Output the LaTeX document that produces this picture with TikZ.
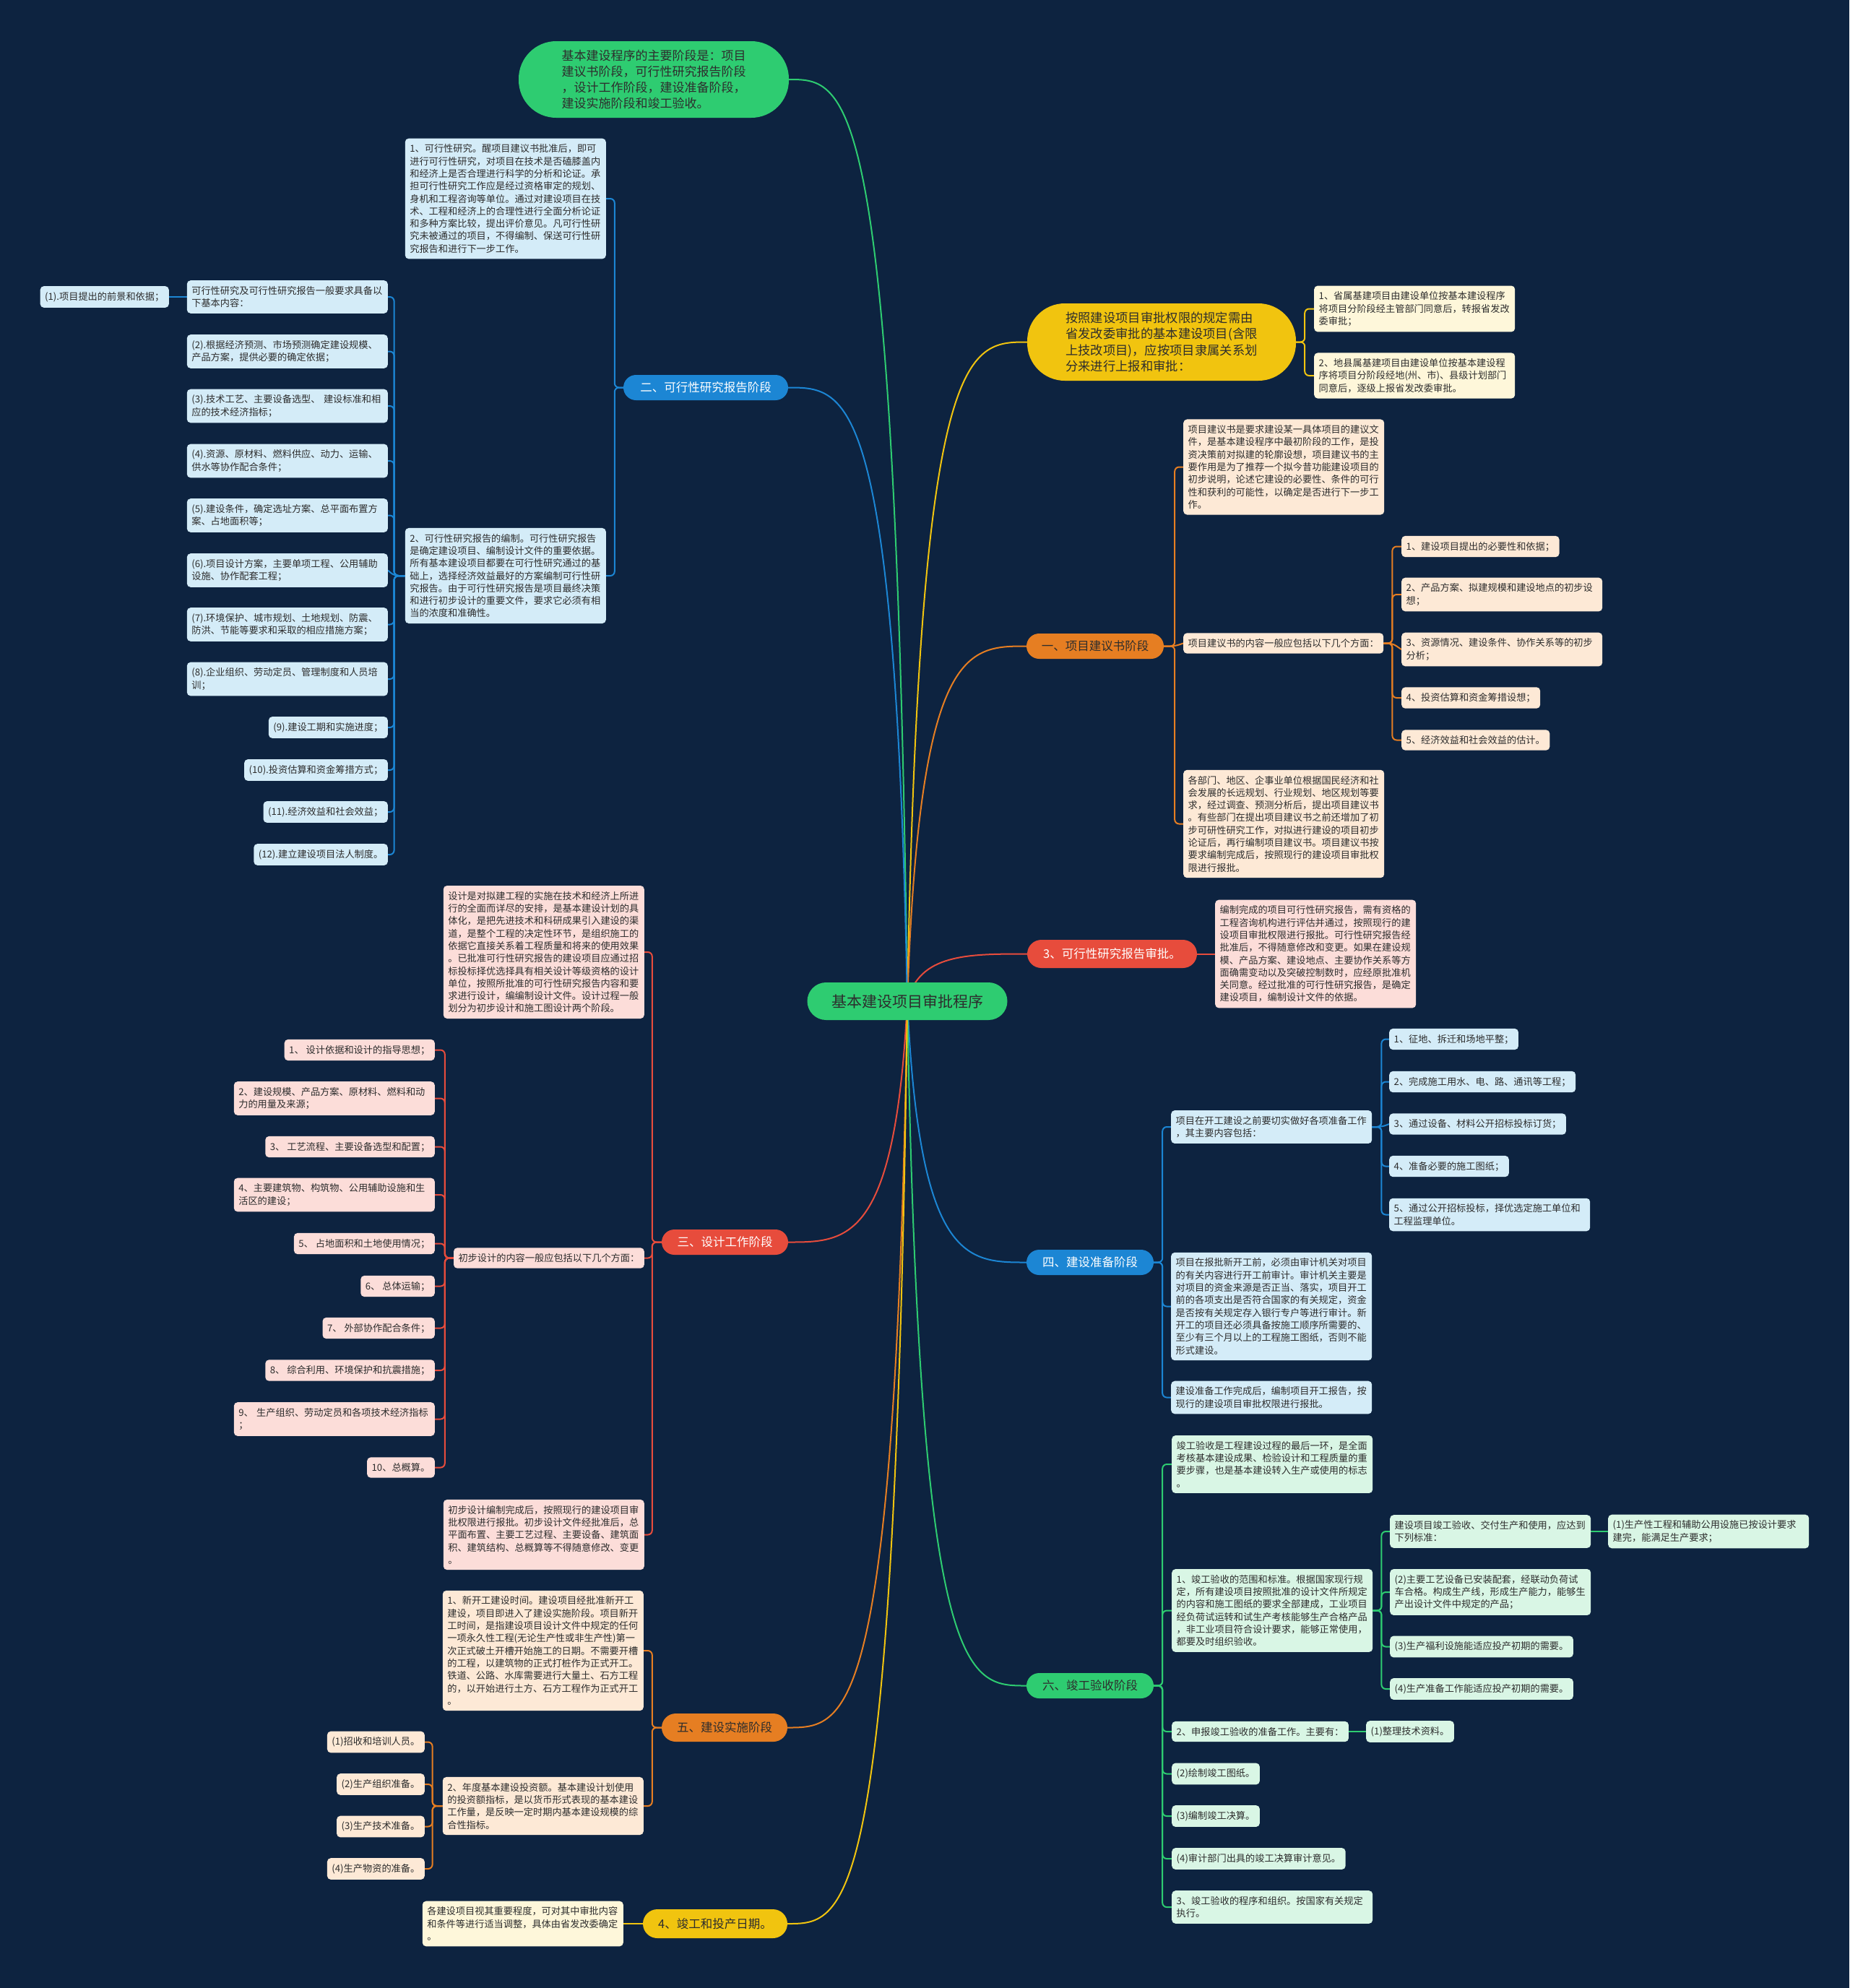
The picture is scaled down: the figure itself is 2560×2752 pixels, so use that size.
\documentclass[tikz,border=0pt]{standalone}
\usepackage{fontspec}
\setmainfont{Noto Sans CJK SC}
\usetikzlibrary{calc}
\definecolor{bgc}{RGB}{13,35,64}
\definecolor{gM}{RGB}{46,204,113}
\definecolor{yM}{RGB}{241,196,15}
\definecolor{oM}{RGB}{230,126,34}
\definecolor{rM}{RGB}{231,76,60}
\definecolor{bM}{RGB}{28,134,212}
\definecolor{gL}{RGB}{217,246,229}
\definecolor{yL}{RGB}{254,247,218}
\definecolor{oL}{RGB}{253,233,214}
\definecolor{rL}{RGB}{252,221,217}
\definecolor{bL}{RGB}{212,236,248}
\definecolor{txt}{RGB}{45,45,45}
\newcommand\lffont{\fontsize{13.2pt}{17.3pt}\selectfont}
\newcommand\brfont{\fontsize{16.5pt}{20pt}\selectfont}
\newcommand\rtfont{\fontsize{21pt}{25pt}\selectfont}
\newcommand\bgfontA{\fontsize{17pt}{21.7pt}\selectfont}
\newcommand\bgfontB{\fontsize{17.3pt}{22.5pt}\selectfont}
\pgfdeclarelayer{bgl}
\pgfdeclarelayer{lns}
\pgfsetlayers{bgl,lns,main}
\tikzset{
  leaf/.style={rectangle, rounded corners=5pt, inner xsep=6.5pt, inner ysep=8pt, align=left, font=\lffont, text=txt},
  lw/.style={text width=265pt},
  br/.style={rectangle, rounded corners=17.5pt, minimum height=35pt, inner sep=0pt, font=\brfont, align=center},
  cn/.style={line width=2pt, rounded corners=6pt},
  rc/.style={line width=2pt},
}
\begin{document}
\begin{tikzpicture}[x=1pt,y=-1pt]
\begin{pgfonlayer}{bgl}
\fill[bgc] (0,0) rectangle (2560,2752);
\end{pgfonlayer}
\useasboundingbox (0,0) rectangle (2560,2752);

% ---------- root and main branches
\node[rectangle, rounded corners=26pt, minimum width=277pt, minimum height=52pt, inner sep=0pt, fill=gM, font=\rtfont, text=txt] (root) at (1256,1386) {基本建设项目审批程序};

\node[rectangle, rounded corners=52pt, minimum width=374pt, minimum height=106pt, inner sep=0pt, fill=gM, font=\bgfontA, text=txt, align=left] (R0) at (905,110) {基本建设程序的主要阶段是：项目\\建议书阶段，可行性研究报告阶段\\，设计工作阶段，建设准备阶段，\\建设实施阶段和竣工验收。};

\node[rectangle, rounded corners=52pt, minimum width=372pt, minimum height=107pt, inner sep=0pt, fill=yM, font=\bgfontB, text=txt, align=left] (R1) at (1608,473.5) {按照建设项目审批权限的规定需由\\省发改委审批的基本建设项目(含限\\上技改项目)，应按项目隶属关系划\\分来进行上报和审批：};

\node[br, fill=oM, text=txt, minimum width=190pt] (R2) at (1516,894.5) {一、项目建议书阶段};
\node[br, fill=rM, text=white, minimum width=235pt, minimum height=39pt, rounded corners=19.5pt] (R3) at (1539.5,1320.5) {3、可行性研究报告审批。};
\node[br, fill=bM, text=white, minimum width=176pt] (R4) at (1509,1747.5) {四、建设准备阶段};
\node[br, fill=gM, text=txt, minimum width=176pt] (R6) at (1509,2333.5) {六、竣工验收阶段};
\node[br, fill=bM, text=white, minimum width=228pt] (L1) at (977,536.5) {二、可行性研究报告阶段};
\node[br, fill=rM, text=white, minimum width=175pt] (L2) at (1003.5,1719.5) {三、设计工作阶段};
\node[br, fill=oM, text=txt, minimum width=174pt, minimum height=39pt, rounded corners=19.5pt] (L3) at (1003,2391.5) {五、建设实施阶段};
\node[br, fill=yM, text=txt, minimum width=200pt, minimum height=40pt, rounded corners=20pt] (L4) at (990,2663) {4、竣工和投产日期。};

% ---------- R1 children
\node[leaf, lw, fill=yL, anchor=west] (R1a) at (1819,427.5) {1、省属基建项目由建设单位按基本建设程序\\将项目分阶段经主管部门同意后，转报省发改\\委审批；};
\node[leaf, lw, fill=yL, anchor=west] (R1b) at (1819,520) {2、地县属基建项目由建设单位按基本建设程\\序将项目分阶段经地(州、市)、县级计划部门\\同意后，逐级上报省发改委审批。};

% ---------- R2 children
\node[leaf, lw, fill=oL, anchor=west] (R2a) at (1638,646.5) {项目建议书是要求建设某一具体项目的建议文\\件，是基本建设程序中最初阶段的工作，是投\\资决策前对拟建的轮廓设想，项目建议书的主\\要作用是为了推荐一个拟今昔功能建设项目的\\初步说明，论述它建设的必要性、条件的可行\\性和获利的可能性，以确定是否进行下一步工\\作。};
\node[leaf, fill=oL, anchor=west] (R2b) at (1638,890.5) {项目建议书的内容一般应包括以下几个方面：};
\node[leaf, lw, fill=oL, anchor=west] (R2c) at (1638,1140.5) {各部门、地区、企事业单位根据国民经济和社\\会发展的长远规划、行业规划、地区规划等要\\求，经过调查、预测分析后，提出项目建议书\\。有些部门在提出项目建议书之前还增加了初\\步可研性研究工作，对拟进行建设的项目初步\\论证后，再行编制项目建议书。项目建议书按\\要求编制完成后，按照现行的建设项目审批权\\限进行报批。};
\node[leaf, fill=oL, anchor=west] (c21) at (1940,756.5) {1、建设项目提出的必要性和依据；};
\node[leaf, lw, fill=oL, anchor=west] (c22) at (1940,823) {2、产品方案、拟建规模和建设地点的初步设\\想；};
\node[leaf, lw, fill=oL, anchor=west] (c23) at (1940,899) {3、资源情况、建设条件、协作关系等的初步\\分析；};
\node[leaf, fill=oL, anchor=west] (c24) at (1940,966) {4、投资估算和资金筹措设想；};
\node[leaf, fill=oL, anchor=west] (c25) at (1940,1024.5) {5、经济效益和社会效益的估计。};

% ---------- R3 child
\node[leaf, lw, fill=rL, anchor=west] (R3a) at (1682,1320.5) {编制完成的项目可行性研究报告，需有资格的\\工程咨询机构进行评估并通过，按照现行的建\\设项目审批权限进行报批。可行性研究报告经\\批准后，不得随意修改和变更。如果在建设规\\模、产品方案、建设地点、主要协作关系等方\\面确需变动以及突破控制数时，应经原批准机\\关同意。经过批准的可行性研究报告，是确定\\建设项目，编制设计文件的依据。};

% ---------- R4 children
\node[leaf, lw, fill=bL, anchor=west] (R4a) at (1621,1560) {项目在开工建设之前要切实做好各项准备工作\\，其主要内容包括：};
\node[leaf, lw, fill=bL, anchor=west] (R4b) at (1621,1808.5) {项目在报批新开工前，必须由审计机关对项目\\的有关内容进行开工前审计。审计机关主要是\\对项目的资金来源是否正当、落实，项目开工\\前的各项支出是否符合国家的有关规定，资金\\是否按有关规定存入银行专户等进行审计。新\\开工的项目还必须具备按施工顺序所需要的、\\至少有三个月以上的工程施工图纸，否则不能\\形式建设。};
\node[leaf, lw, fill=bL, anchor=west] (R4c) at (1621,1934.5) {建设准备工作完成后，编制项目开工报告，按\\现行的建设项目审批权限进行报批。};
\node[leaf, fill=bL, anchor=west] (c41) at (1923,1438.5) {1、征地、拆迁和场地平整；};
\node[leaf, fill=bL, anchor=west] (c42) at (1923,1497.5) {2、完成施工用水、电、路、通讯等工程；};
\node[leaf, fill=bL, anchor=west] (c43) at (1923,1556) {3、通过设备、材料公开招标投标订货；};
\node[leaf, fill=bL, anchor=west] (c44) at (1923,1614.5) {4、准备必要的施工图纸；};
\node[leaf, lw, fill=bL, anchor=west] (c45) at (1923,1681.5) {5、通过公开招标投标，择优选定施工单位和\\工程监理单位。};

% ---------- R6 children
\node[leaf, lw, fill=gL, anchor=west] (R6a) at (1622,2027) {竣工验收是工程建设过程的最后一环，是全面\\考核基本建设成果、检验设计和工程质量的重\\要步骤，也是基本建设转入生产或使用的标志\\。};
\node[leaf, lw, fill=gL, anchor=west] (R6b) at (1622,2229.5) {1、竣工验收的范围和标准。根据国家现行规\\定，所有建设项目按照批准的设计文件所规定\\的内容和施工图纸的要求全部建成，工业项目\\经负荷试运转和试生产考核能够生产合格产品\\，非工业项目符合设计要求，能够正常使用，\\都要及时组织验收。};
\node[leaf, lw, fill=gL, anchor=west] (b61) at (1924,2120) {建设项目竣工验收、交付生产和使用，应达到\\下列标准：};
\node[leaf, lw, fill=gL, anchor=west] (b61a) at (2226,2120) {(1)生产性工程和辅助公用设施已按设计要求\\建完，能满足生产要求；};
\node[leaf, lw, fill=gL, anchor=west] (b62) at (1924,2204) {(2)主要工艺设备已安装配套，经联动负荷试\\车合格。构成生产线，形成生产能力，能够生\\产出设计文件中规定的产品；};
\node[leaf, fill=gL, anchor=west] (b63) at (1924,2279.5) {(3)生产福利设施能适应投产初期的需要。};
\node[leaf, fill=gL, anchor=west] (b64) at (1924,2338) {(4)生产准备工作能适应投产初期的需要。};
\node[leaf, fill=gL, anchor=west] (R6c) at (1622,2397) {2、申报竣工验收的准备工作。主要有：};
\node[leaf, fill=gL, anchor=west] (R6c1) at (1891,2397) {(1)整理技术资料。};
\node[leaf, fill=gL, anchor=west] (R6d) at (1622,2455.5) {(2)绘制竣工图纸。};
\node[leaf, fill=gL, anchor=west] (R6e) at (1622,2514) {(3)编制竣工决算。};
\node[leaf, fill=gL, anchor=west] (R6f) at (1622,2573) {(4)审计部门出具的竣工决算审计意见。};
\node[leaf, lw, fill=gL, anchor=west] (R6g) at (1622,2640) {3、竣工验收的程序和组织。按国家有关规定\\执行。};

% ---------- L1 children
\node[leaf, lw, fill=bL, anchor=east] (L1a) at (839,275) {1、可行性研究。醒项目建议书批准后，即可\\进行可行性研究，对项目在技术是否磕膝盖内\\和经济上是否合理进行科学的分析和论证。承\\担可行性研究工作应是经过资格审定的规划、\\身机和工程咨询等单位。通过对建设项目在技\\术、工程和经济上的合理性进行全面分析论证\\和多种方案比较，提出评价意见。凡可行性研\\究未被通过的项目，不得编制、保送可行性研\\究报告和进行下一步工作。};
\node[leaf, lw, fill=bL, anchor=east] (L1b) at (839,797) {2、可行性研究报告的编制。可行性研究报告\\是确定建设项目、编制设计文件的重要依据。\\所有基本建设项目都要在可行性研究通过的基\\础上，选择经济效益最好的方案编制可行性研\\究报告。由于可行性研究报告是项目最终决策\\和进行初步设计的重要文件，要求它必须有相\\当的浓度和准确性。};
\node[leaf, lw, fill=bL, anchor=east] (L1c) at (537,411) {可行性研究及可行性研究报告一般要求具备以\\下基本内容：};
\node[leaf, fill=bL, anchor=east] (i1) at (234,411) {(1).项目提出的前景和依据；};
\node[leaf, lw, fill=bL, anchor=east] (i2) at (537,486.5) {(2).根据经济预测、市场预测确定建设规模、\\产品方案，提供必要的确定依据；};
\node[leaf, lw, fill=bL, anchor=east] (i3) at (537,562) {(3).技术工艺、主要设备选型、 建设标准和相\\应的技术经济指标；};
\node[leaf, lw, fill=bL, anchor=east] (i4) at (537,638) {(4).资源、原材料、燃料供应、动力、运输、\\供水等协作配合条件；};
\node[leaf, lw, fill=bL, anchor=east] (i5) at (537,713.5) {(5).建设条件，确定选址方案、总平面布置方\\案、占地面积等；};
\node[leaf, lw, fill=bL, anchor=east] (i6) at (537,789.5) {(6).项目设计方案，主要单项工程、公用辅助\\设施、协作配套工程；};
\node[leaf, lw, fill=bL, anchor=east] (i7) at (537,864.5) {(7).环境保护、城市规划、土地规划、防震、\\防洪、节能等要求和采取的相应措施方案；};
\node[leaf, lw, fill=bL, anchor=east] (i8) at (537,940) {(8).企业组织、劳动定员、管理制度和人员培\\训；};
\node[leaf, fill=bL, anchor=east] (i9) at (537,1007) {(9).建设工期和实施进度；};
\node[leaf, fill=bL, anchor=east] (i10) at (537,1066) {(10).投资估算和资金筹措方式；};
\node[leaf, fill=bL, anchor=east] (i11) at (537,1124) {(11).经济效益和社会效益；};
\node[leaf, fill=bL, anchor=east] (i12) at (537,1183) {(12).建立建设项目法人制度。};

% ---------- L2 children
\node[leaf, lw, fill=rL, anchor=east] (L2a) at (892,1318) {设计是对拟建工程的实施在技术和经济上所进\\行的全面而详尽的安排，是基本建设计划的具\\体化，是把先进技术和科研成果引入建设的渠\\道，是整个工程的决定性环节，是组织施工的\\依据它直接关系着工程质量和将来的使用效果\\。已批准可行性研究报告的建设项目应通过招\\标投标择优选择具有相关设计等级资格的设计\\单位，按照所批准的可行性研究报告内容和要\\求进行设计，编编制设计文件。设计过程一般\\划分为初步设计和施工图设计两个阶段。};
\node[leaf, fill=rL, anchor=east] (L2b) at (892,1741.5) {初步设计的内容一般应包括以下几个方面：};
\node[leaf, lw, fill=rL, anchor=east] (L2c) at (892,2124.5) {初步设计编制完成后，按照现行的建设项目审\\批权限进行报批。初步设计文件经批准后，总\\平面布置、主要工艺过程、主要设备、建筑面\\积、建筑结构、总概算等不得随意修改、变更\\。};
\node[leaf, fill=rL, anchor=east] (d1) at (602,1453.5) {1、 设计依据和设计的指导思想；};
\node[leaf, lw, fill=rL, anchor=east] (d2) at (602,1520.5) {2、建设规模、产品方案、原材料、燃料和动\\力的用量及来源；};
\node[leaf, fill=rL, anchor=east] (d3) at (602,1587.5) {3、 工艺流程、主要设备选型和配置；};
\node[leaf, lw, fill=rL, anchor=east] (d4) at (602,1654) {4、主要建筑物、构筑物、公用辅助设施和生\\活区的建设；};
\node[leaf, fill=rL, anchor=east] (d5) at (602,1721.5) {5、 占地面积和土地使用情况；};
\node[leaf, fill=rL, anchor=east] (d6) at (602,1780.5) {6、 总体运输；};
\node[leaf, fill=rL, anchor=east] (d7) at (602,1838.5) {7、 外部协作配合条件；};
\node[leaf, fill=rL, anchor=east] (d8) at (602,1897) {8、 综合利用、环境保护和抗震措施；};
\node[leaf, lw, fill=rL, anchor=east] (d9) at (602,1964.5) {9、 生产组织、劳动定员和各项技术经济指标\\；};
\node[leaf, fill=rL, anchor=east] (d10) at (602,2031.5) {10、总概算。};

% ---------- L3 children
\node[leaf, lw, fill=oL, anchor=east] (L3a) at (891,2285) {1、新开工建设时间。建设项目经批准新开工\\建设，项目即进入了建设实施阶段。项目新开\\工时间，是指建设项目设计文件中规定的任何\\一项永久性工程(无论生产性或非生产性)第一\\次正式破土开槽开始施工的日期。不需要开槽\\的工程，以建筑物的正式打桩作为正式开工。\\铁道、公路、水库需要进行大量土、石方工程\\的，以开始进行土方、石方工程作为正式开工\\。};
\node[leaf, lw, fill=oL, anchor=east] (L3b) at (891,2500) {2、年度基本建设投资额。基本建设计划使用\\的投资额指标，是以货币形式表现的基本建设\\工作量，是反映一定时期内基本建设规模的综\\合性指标。};
\node[leaf, fill=oL, anchor=east] (e1) at (588,2411.5) {(1)招收和培训人员。};
\node[leaf, fill=oL, anchor=east] (e2) at (588,2470) {(2)生产组织准备。};
\node[leaf, fill=oL, anchor=east] (e3) at (588,2528.5) {(3)生产技术准备。};
\node[leaf, fill=oL, anchor=east] (e4) at (588,2587) {(4)生产物资的准备。};

% ---------- L4 child
\node[leaf, lw, fill=yL, anchor=east] (L4a) at (863,2663) {各建设项目视其重要程度，可对其中审批内容\\和条件等进行适当调整，具体由省发改委确定\\。};

% ---------- connectors
\begin{pgfonlayer}{lns}
\draw[rc, draw=gM] (root.center) .. controls (1239.6,110) and (1174,110) .. (R0.east);
\draw[rc, draw=yM] (root.center) .. controls (1272.6,473.5) and (1339,473.5) .. (R1.west);
\draw[rc, draw=oM] (root.center) .. controls (1272.5,894.5) and (1338.5,894.5) .. (R2.west);
\draw[rc, draw=rM] (root.center) .. controls (1272.6,1320.5) and (1339,1320.5) .. (R3.west);
\draw[rc, draw=bM] (root.center) .. controls (1272.5,1747.5) and (1338.5,1747.5) .. (R4.west);
\draw[rc, draw=gM] (root.center) .. controls (1272.5,2333.5) and (1338.5,2333.5) .. (R6.west);
\draw[rc, draw=bM] (root.center) .. controls (1239.5,536.5) and (1173.5,536.5) .. (L1.east);
\draw[rc, draw=rM] (root.center) .. controls (1239.5,1719.5) and (1173.5,1719.5) .. (L2.east);
\draw[rc, draw=oM] (root.center) .. controls (1239.4,2391.5) and (1173,2391.5) .. (L3.east);
\draw[rc, draw=yM] (root.center) .. controls (1239.4,2663) and (1173,2663) .. (L4.east);

% R1
\foreach \n in {R1a,R1b} \draw[cn, draw=yM] (R1.east) -- ++(12,0) |- (\n.west);
% R2
\foreach \n in {R2a,R2c} \draw[cn, draw=oM] (R2.east) -- ++(15,0) |- (\n.west);
\draw[cn, draw=oM] (R2.east) -- ++(15,0) -- (R2b.west);
\foreach \n in {c21,c22,c24,c25} \draw[cn, draw=oM] (R2b.east) -- ++(12,0) |- (\n.west);
\draw[cn, draw=oM] (R2b.east) -- ++(12,0) -- (c23.west);
% R3
\draw[cn, draw=rM] (R3.east) -- (R3a.west);
% R4
\foreach \n in {R4a,R4b,R4c} \draw[cn, draw=bM] (R4.east) -- ++(12,0) |- (\n.west);
\foreach \n in {c41,c42,c44,c45} \draw[cn, draw=bM] (R4a.east) -- ++(13,0) |- (\n.west);
\draw[cn, draw=bM] (R4a.east) -- ++(13,0) -- (c43.west);
% R6
\foreach \n in {R6a,R6b,R6c,R6d,R6e,R6f,R6g} \draw[cn, draw=gM] (R6.east) -- ++(12,0) |- (\n.west);
\foreach \n in {b61,b62,b63,b64} \draw[cn, draw=gM] (R6b.east) -- ++(12,0) |- (\n.west);
\draw[cn, draw=gM] (b61.east) -- (b61a.west);
\draw[cn, draw=gM] (R6c.east) -- (R6c1.west);
% L1
\foreach \n in {L1a,L1b} \draw[cn, draw=bM] (L1.west) -- ++(-12,0) |- (\n.east);
\foreach \n in {L1c,i2,i3,i4,i5,i7,i8,i9,i10,i11,i12} \draw[cn, draw=bM] (L1b.west) -- ++(-15,0) |- (\n.east);
\draw[cn, draw=bM] (L1b.west) -- ++(-15,0) -- (i6.east);
\draw[cn, draw=bM] (L1c.west) -- (i1.east);
% L2
\foreach \n in {L2a,L2b,L2c} \draw[cn, draw=rM] (L2.west) -- ++(-13,0) |- (\n.east);
\foreach \n in {d1,d2,d3,d4,d5,d6,d7,d8,d9,d10} \draw[cn, draw=rM] (L2b.west) -- ++(-12,0) |- (\n.east);
% L3
\foreach \n in {L3a,L3b} \draw[cn, draw=oM] (L3.west) -- ++(-13,0) |- (\n.east);
\foreach \n in {e1,e2,e3,e4} \draw[cn, draw=oM] (L3b.west) -- ++(-14,0) |- (\n.east);
% L4
\draw[cn, draw=yM] (L4.west) -- (L4a.east);
\end{pgfonlayer}
\end{tikzpicture}
\end{document}
